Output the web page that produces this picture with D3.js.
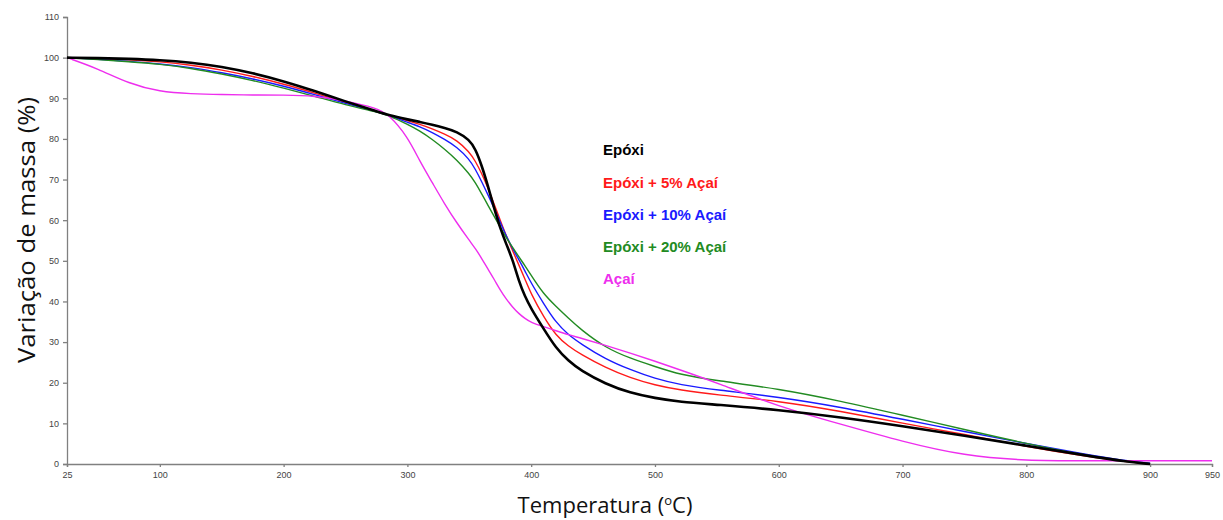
<!DOCTYPE html>
<html>
<head>
<meta charset="utf-8">
<script src="https://cdn.jsdelivr.net/npm/d3@7"></script>
<style>
  body { margin: 0; background: #fff; }
  svg { display: block; }
</style>
</head>
<body>
<script>
// temperature grid (°C)
const temps = [25, 50, 75, 100, 125, 150, 175, 200, 225, 250, 275, 285, 300, 310, 320, 330, 340, 350, 355, 360, 365, 370, 375, 380, 385, 390, 395, 400, 410, 420, 430, 440, 460, 480, 500, 520, 550, 600, 650, 700, 750, 800, 850, 880, 900, 950]

// mass (%) per series, null = no reading
const epoxi = [100, 99.9, 99.7, 99.4, 98.8, 97.8, 96.2, 94.2, 91.8, 89.2, 86.8, 85.8, 84.8, 84.2, 83.5, 82.7, 81.8, 79.8, 77.5, 73.5, 68.5, 63, 58, 54, 50.3, 45, 41.2, 38.2, 33.3, 28.5, 25.4, 23, 19.7, 17.5, 16.2, 15.3, 14.6, 13.3, 11.5, 9.3, 7, 4.5, 2, 0.6, 0, null]
const epoxi5 = [100, 99.8, 99.5, 99, 98.2, 97, 95.4, 93.5, 91.3, 89, 86.8, 85.8, 84.5, 83.6, 82.5, 81.2, 79.7, 76.8, 74.5, 71.5, 68, 64, 60, 56, 52.5, 49, 45.5, 41.8, 36.2, 31.6, 29, 27, 23.7, 21.2, 19.4, 18.2, 17, 15.5, 13, 10, 7.3, 4.3, 1.8, 0.5, 0.1, null]
const epoxi10 = [100, 99.6, 99.1, 98.5, 97.6, 96.3, 94.8, 93, 90.9, 88.7, 86.7, 85.8, 84.1, 83, 81.6, 79.9, 78, 75, 72.5, 69.5, 66.3, 63, 59.5, 56, 53, 50.3, 47.5, 44.5, 39.5, 34.8, 31.8, 29.6, 25.8, 23.2, 21, 19.5, 18.2, 16.5, 14, 11, 8, 5, 2.3, 0.8, 0.2, null]
const epoxi20 = [100, 99.5, 99, 98.4, 97.4, 96, 94.4, 92.5, 90.5, 88.4, 86.6, 85.8, 83.6, 82, 79.9, 77.5, 74.8, 71.4, 69.2, 66.5, 63.7, 61, 58.3, 55.6, 53.3, 51, 48.8, 46.4, 41.8, 38.8, 35.9, 33.1, 28.6, 26, 24, 22, 20.5, 18.5, 15.5, 12, 8.5, 5, 2, 0.6, 0.1, null]
const acai = [100, 97.3, 93.6, 91.6, 91.1, 90.9, 90.8, 90.8, 90.6, 89.4, 87.6, 86, 80.6, 74.5, 69.3, 64, 59.3, 55, 53, 50.6, 48, 45.5, 42.8, 40.5, 38.6, 37, 35.8, 34.8, 33.8, 32.8, 31.8, 31, 29.2, 27.3, 25.3, 23.2, 20, 14.1, 9.8, 5.5, 2, 0.8, 0.8, 0.8, 0.8, 0.8]

const seriesNames = ["Epóxi", "Epóxi + 5% Açaí", "Epóxi + 10% Açaí", "Epóxi + 20% Açaí", "Açaí"]
const seriesValues = [epoxi, epoxi5, epoxi10, epoxi20, acai]
const colors = ["#000000", "#ff1a1a", "#1a1aff", "#228b22", "#ee2eee"]
const widths = [2.6, 1.4, 1.4, 1.4, 1.4]

const xTicks = [25, 100, 200, 300, 400, 500, 600, 700, 800, 900, 950]
const yTicks = [0, 10, 20, 30, 40, 50, 60, 70, 80, 90, 100, 110]

const w = 1223
const h = 520
const mLeft = 67, mRight = 1212, mTop = 17, mBottom = 464

const svg = d3.select("body").append("svg")
    .attr("width", w)
    .attr("height", h)

const x = d3.scaleLinear().domain([25, 950]).range([mLeft, mRight])
const y = d3.scaleLinear().domain([0, 110]).range([mBottom, mTop])

// axes
svg.append("g")
    .attr("transform", "translate(0," + mBottom + ")")
    .call(d3.axisBottom(x).tickValues(xTicks).tickSize(3).tickPadding(5))
svg.append("g")
    .attr("transform", "translate(" + mLeft + ",0)")
    .call(d3.axisLeft(y).tickValues(yTicks).tickSize(4).tickPadding(4))

svg.selectAll(".domain, .tick line")
    .attr("stroke", "#808080")
    .attr("stroke-width", 1.3)
svg.selectAll(".tick text")
    .attr("font-family", "Liberation Sans, Arial, sans-serif")
    .attr("font-size", 9)
    .attr("fill", "#444")

// curves
const line = d3.line()
    .defined(d => d[1] !== null)
    .x(d => x(d[0]))
    .y(d => y(d[1]))
    .curve(d3.curveBasis)

// black drawn last so it sits on top
const order = [1, 2, 3, 4, 0]
order.forEach(i => {
    const pts = temps.map((t, j) => [t, seriesValues[i][j]])
    svg.append("path")
        .datum(pts)
        .attr("d", line)
        .attr("fill", "none")
        .attr("stroke", colors[i])
        .attr("stroke-width", widths[i])
})

// legend
const legendY = [155, 188, 220, 252, 284]
seriesNames.forEach((name, i) => {
    svg.append("text")
        .attr("x", 603)
        .attr("y", legendY[i])
        .attr("font-family", "Liberation Sans, Arial, sans-serif")
        .attr("font-weight", "bold")
        .attr("font-size", 15)
        .attr("fill", colors[i])
        .text(name)
})

// axis titles
svg.append("text")
    .attr("transform", "translate(35,230) rotate(-90)")
    .attr("text-anchor", "middle")
    .attr("font-family", "Open Sans, sans-serif")
    .attr("font-size", 23)
    .attr("textLength", 266)
    .attr("lengthAdjust", "spacingAndGlyphs")
    .attr("fill", "#111")
    .text("Variação de massa (%)")

const xt = svg.append("text")
    .attr("x", 605)
    .attr("y", 513)
    .attr("text-anchor", "middle")
    .attr("font-family", "Open Sans, sans-serif")
    .attr("font-size", 22)
    .attr("fill", "#111")
xt.append("tspan").text("Temperatura (")
xt.append("tspan").attr("font-size", 13).attr("dy", -8).text("o")
xt.append("tspan").attr("dy", 8).text("C)")
</script>
</body>
</html>
